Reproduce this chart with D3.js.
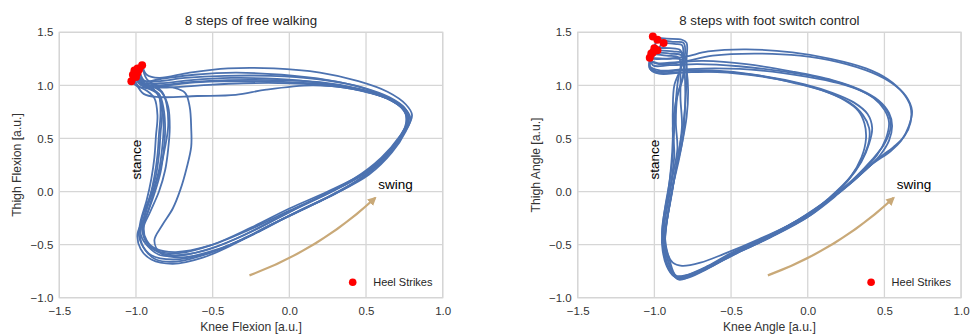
<!DOCTYPE html>
<html>
<head>
<meta charset="utf-8">
<script src="https://cdn.jsdelivr.net/npm/d3@7"></script>
<style>
  body { margin:0; background:#fff; }
  svg { font-family:"Liberation Sans", Arial, sans-serif; }
</style>
</head>
<body>
<svg width="971" height="336"></svg>
<script>
// tick values shared by both panels
var xTicks = [-1.5, -1.0, -0.5, 0.0, 0.5, 1.0]
var yTicks = [-1.0, -0.5, 0.0, 0.5, 1.0, 1.5]

// ---- left panel: free walking, one array of [knee, thigh] per step
var freeSteps = [
  [[-1.03,1.04],[-0.99,0.99],[-0.92,0.97],[-0.86,0.92],[-0.83,0.80],[-0.82,0.60],[-0.83,0.40],[-0.85,0.20],[-0.89,0.00],[-0.94,-0.20],[-0.96,-0.36],[-0.93,-0.48],[-0.86,-0.56],[-0.72,-0.58],[-0.50,-0.50],[-0.25,-0.34],[0.00,-0.16],[0.25,0.00],[0.48,0.17],[0.64,0.36],[0.74,0.55],[0.78,0.70],[0.74,0.80],[0.62,0.90],[0.45,0.97],[0.20,1.03],[-0.10,1.05],[-0.40,1.05],[-0.65,1.03],[-0.85,1.00],[-0.95,1.01],[-1.00,1.08]],
  [[-1.00,1.08],[-0.97,1.02],[-0.90,0.98],[-0.85,0.90],[-0.83,0.75],[-0.84,0.55],[-0.85,0.35],[-0.87,0.15],[-0.91,-0.05],[-0.96,-0.25],[-0.97,-0.40],[-0.92,-0.52],[-0.84,-0.60],[-0.70,-0.60],[-0.48,-0.52],[-0.22,-0.36],[0.02,-0.18],[0.28,0.00],[0.50,0.18],[0.66,0.38],[0.76,0.58],[0.80,0.72],[0.76,0.82],[0.64,0.94],[0.45,1.04],[0.20,1.12],[-0.10,1.16],[-0.40,1.16],[-0.65,1.12],[-0.85,1.07],[-0.93,1.10],[-0.96,1.19]],
  [[-0.96,1.19],[-0.93,1.06],[-0.86,1.00],[-0.76,0.98],[-0.68,0.93],[-0.65,0.80],[-0.64,0.60],[-0.64,0.42],[-0.67,0.22],[-0.71,0.02],[-0.76,-0.16],[-0.83,-0.32],[-0.88,-0.46],[-0.84,-0.58],[-0.70,-0.62],[-0.46,-0.54],[-0.20,-0.38],[0.05,-0.19],[0.30,-0.02],[0.52,0.16],[0.67,0.37],[0.76,0.57],[0.79,0.69],[0.74,0.80],[0.60,0.90],[0.40,0.97],[0.15,1.00],[-0.15,0.96],[-0.35,0.91],[-0.60,0.90],[-0.85,0.89],[-0.95,0.92],[-1.00,1.02],[-1.02,1.10]],
  [[-1.02,1.10],[-0.99,1.00],[-0.93,0.95],[-0.88,0.88],[-0.86,0.72],[-0.87,0.52],[-0.88,0.32],[-0.90,0.12],[-0.93,-0.08],[-0.97,-0.28],[-0.98,-0.42],[-0.94,-0.55],[-0.87,-0.64],[-0.74,-0.66],[-0.52,-0.58],[-0.28,-0.43],[-0.02,-0.24],[0.24,-0.06],[0.46,0.12],[0.62,0.31],[0.72,0.50],[0.77,0.66],[0.74,0.78],[0.63,0.88],[0.46,0.96],[0.22,1.02],[-0.08,1.06],[-0.38,1.07],[-0.64,1.05],[-0.84,1.02],[-0.96,1.03],[-0.99,1.12]],
  [[-0.99,1.12],[-0.96,1.03],[-0.89,0.99],[-0.83,0.93],[-0.79,0.80],[-0.78,0.60],[-0.79,0.40],[-0.81,0.20],[-0.85,0.00],[-0.91,-0.20],[-0.95,-0.34],[-0.93,-0.46],[-0.87,-0.54],[-0.74,-0.57],[-0.52,-0.51],[-0.26,-0.36],[0.00,-0.18],[0.26,-0.01],[0.48,0.16],[0.63,0.35],[0.73,0.54],[0.77,0.68],[0.73,0.79],[0.60,0.91],[0.42,1.00],[0.18,1.06],[-0.12,1.09],[-0.42,1.09],[-0.68,1.07],[-0.86,1.04],[-0.96,1.05],[-1.01,1.14]],
  [[-1.01,1.14],[-0.98,1.03],[-0.91,0.97],[-0.85,0.92],[-0.82,0.78],[-0.81,0.58],[-0.82,0.38],[-0.84,0.18],[-0.88,-0.02],[-0.93,-0.22],[-0.97,-0.36],[-0.96,-0.50],[-0.90,-0.60],[-0.76,-0.64],[-0.55,-0.59],[-0.32,-0.46],[-0.06,-0.27],[0.20,-0.09],[0.43,0.09],[0.60,0.28],[0.71,0.48],[0.76,0.64],[0.75,0.76],[0.66,0.86],[0.50,0.94],[0.28,1.00],[0.00,1.03],[-0.30,1.04],[-0.58,1.03],[-0.80,1.00],[-0.93,0.98],[-0.99,1.04],[-0.98,1.15]],
  [[-0.98,1.15],[-0.95,1.05],[-0.88,1.00],[-0.83,0.94],[-0.80,0.82],[-0.79,0.62],[-0.81,0.42],[-0.84,0.22],[-0.88,0.02],[-0.92,-0.18],[-0.95,-0.32],[-0.94,-0.45],[-0.88,-0.55],[-0.76,-0.60],[-0.56,-0.56],[-0.34,-0.44],[-0.08,-0.25],[0.18,-0.06],[0.42,0.12],[0.60,0.32],[0.72,0.52],[0.78,0.68],[0.75,0.79],[0.65,0.89],[0.48,0.98],[0.25,1.05],[-0.05,1.10],[-0.35,1.12],[-0.62,1.10],[-0.84,1.06],[-0.95,1.04],[-0.99,1.16]],
  [[-0.99,1.16],[-0.96,1.04],[-0.90,0.98],[-0.85,0.90],[-0.84,0.74],[-0.85,0.54],[-0.86,0.34],[-0.88,0.14],[-0.91,-0.06],[-0.95,-0.26],[-0.99,-0.40],[-0.97,-0.54],[-0.90,-0.64],[-0.76,-0.68],[-0.56,-0.62],[-0.34,-0.48],[-0.10,-0.30],[0.16,-0.12],[0.40,0.06],[0.58,0.25],[0.70,0.45],[0.77,0.63],[0.76,0.75],[0.68,0.85],[0.52,0.93],[0.30,0.99],[0.00,1.02],[-0.30,1.02],[-0.58,1.00],[-0.80,0.98],[-0.94,0.99],[-1.00,1.06],[-1.00,1.16]]
]
var freeHeel = [[-1.03,1.04],[-1.00,1.08],[-0.96,1.19],[-1.02,1.10],[-0.99,1.12],[-1.01,1.14],[-0.98,1.15],[-0.99,1.16]]

// ---- right panel: foot switch control
var switchSteps = [
  [[-1.01,1.45],[-0.92,1.44],[-0.82,1.43],[-0.79,1.40],[-0.79,1.25],[-0.79,1.05],[-0.80,0.80],[-0.81,0.55],[-0.84,0.30],[-0.88,0.05],[-0.91,-0.20],[-0.93,-0.45],[-0.90,-0.65],[-0.86,-0.79],[-0.80,-0.79],[-0.65,-0.70],[-0.50,-0.58],[-0.28,-0.44],[-0.05,-0.26],[0.15,-0.07],[0.32,0.13],[0.45,0.30],[0.56,0.42],[0.63,0.52],[0.67,0.65],[0.67,0.80],[0.62,0.93],[0.52,1.06],[0.38,1.16],[0.15,1.25],[-0.10,1.31],[-0.40,1.34],[-0.65,1.32],[-0.80,1.27],[-0.95,1.25],[-1.02,1.26],[-0.98,1.43]],
  [[-0.98,1.43],[-0.88,1.41],[-0.81,1.40],[-0.80,1.30],[-0.84,1.10],[-0.86,0.85],[-0.87,0.60],[-0.88,0.35],[-0.90,0.10],[-0.93,-0.15],[-0.95,-0.40],[-0.92,-0.60],[-0.88,-0.76],[-0.83,-0.82],[-0.72,-0.76],[-0.55,-0.63],[-0.33,-0.48],[-0.10,-0.30],[0.10,-0.11],[0.28,0.08],[0.42,0.26],[0.54,0.38],[0.61,0.48],[0.66,0.62],[0.68,0.76],[0.64,0.90],[0.55,1.02],[0.42,1.12],[0.20,1.22],[-0.05,1.28],[-0.35,1.30],[-0.62,1.28],[-0.82,1.22],[-0.97,1.20],[-1.03,1.24],[-0.94,1.40]],
  [[-0.94,1.40],[-0.87,1.39],[-0.82,1.38],[-0.81,1.28],[-0.80,1.05],[-0.80,0.80],[-0.82,0.55],[-0.85,0.30],[-0.88,0.05],[-0.91,-0.20],[-0.93,-0.42],[-0.92,-0.56],[-0.88,-0.67],[-0.82,-0.70],[-0.70,-0.67],[-0.55,-0.59],[-0.32,-0.45],[-0.06,-0.27],[0.14,-0.08],[0.30,0.12],[0.42,0.30],[0.50,0.45],[0.54,0.60],[0.53,0.72],[0.47,0.84],[0.36,0.94],[0.20,1.02],[0.00,1.08],[-0.30,1.14],[-0.60,1.16],[-0.82,1.15],[-0.96,1.14],[-1.03,1.18],[-1.00,1.35]],
  [[-1.00,1.35],[-0.90,1.35],[-0.83,1.33],[-0.82,1.20],[-0.87,1.00],[-0.88,0.75],[-0.88,0.50],[-0.89,0.25],[-0.91,0.00],[-0.94,-0.25],[-0.95,-0.50],[-0.92,-0.70],[-0.87,-0.80],[-0.80,-0.80],[-0.66,-0.72],[-0.50,-0.60],[-0.28,-0.45],[-0.04,-0.26],[0.14,-0.06],[0.28,0.14],[0.36,0.32],[0.40,0.48],[0.40,0.60],[0.36,0.72],[0.27,0.84],[0.12,0.94],[-0.08,1.02],[-0.35,1.10],[-0.62,1.14],[-0.84,1.14],[-0.98,1.13],[-1.03,1.18],[-0.98,1.33]],
  [[-0.98,1.33],[-0.88,1.32],[-0.81,1.30],[-0.79,1.15],[-0.78,0.95],[-0.79,0.70],[-0.82,0.45],[-0.86,0.20],[-0.89,-0.05],[-0.92,-0.30],[-0.93,-0.52],[-0.90,-0.70],[-0.86,-0.81],[-0.80,-0.82],[-0.67,-0.74],[-0.52,-0.62],[-0.30,-0.47],[-0.06,-0.28],[0.12,-0.09],[0.26,0.10],[0.35,0.28],[0.40,0.45],[0.42,0.60],[0.39,0.73],[0.30,0.84],[0.16,0.93],[-0.02,1.01],[-0.30,1.09],[-0.58,1.13],[-0.82,1.12],[-0.97,1.11],[-1.03,1.16],[-1.01,1.31]],
  [[-1.01,1.31],[-0.90,1.30],[-0.82,1.28],[-0.81,1.12],[-0.85,0.90],[-0.86,0.65],[-0.85,0.40],[-0.88,0.15],[-0.91,-0.10],[-0.94,-0.35],[-0.94,-0.55],[-0.91,-0.72],[-0.86,-0.80],[-0.79,-0.79],[-0.64,-0.70],[-0.48,-0.57],[-0.26,-0.42],[-0.02,-0.23],[0.18,-0.03],[0.34,0.17],[0.45,0.34],[0.51,0.50],[0.53,0.65],[0.50,0.77],[0.43,0.88],[0.30,0.98],[0.12,1.06],[-0.15,1.13],[-0.45,1.18],[-0.72,1.20],[-0.90,1.19],[-1.01,1.19],[-1.02,1.30]],
  [[-1.02,1.30],[-0.92,1.28],[-0.84,1.26],[-0.83,1.10],[-0.83,0.88],[-0.82,0.62],[-0.84,0.38],[-0.87,0.12],[-0.90,-0.12],[-0.93,-0.38],[-0.93,-0.60],[-0.89,-0.76],[-0.84,-0.83],[-0.77,-0.80],[-0.62,-0.70],[-0.46,-0.58],[-0.24,-0.43],[0.00,-0.24],[0.16,-0.05],[0.28,0.14],[0.35,0.32],[0.38,0.50],[0.37,0.64],[0.33,0.76],[0.24,0.86],[0.10,0.95],[-0.10,1.03],[-0.38,1.10],[-0.66,1.13],[-0.86,1.12],[-0.99,1.12],[-1.03,1.16],[-1.03,1.26]],
  [[-1.03,1.26],[-0.92,1.25],[-0.82,1.24],[-0.81,1.10],[-0.86,0.85],[-0.88,0.60],[-0.87,0.35],[-0.89,0.10],[-0.92,-0.15],[-0.94,-0.40],[-0.93,-0.62],[-0.89,-0.76],[-0.84,-0.81],[-0.76,-0.78],[-0.60,-0.68],[-0.44,-0.56],[-0.22,-0.41],[0.02,-0.22],[0.20,-0.02],[0.36,0.18],[0.47,0.34],[0.53,0.48],[0.55,0.62],[0.53,0.74],[0.46,0.86],[0.34,0.96],[0.16,1.05],[-0.10,1.13],[-0.40,1.20],[-0.68,1.23],[-0.85,1.22],[-0.98,1.21],[-1.03,1.24]]
]
var switchHeel = [[-1.01,1.46],[-0.98,1.43],[-0.94,1.40],[-1.00,1.35],[-0.98,1.33],[-1.01,1.31],[-1.02,1.30],[-1.03,1.26]]

// annotation anchors (data units)
var arrowFrom = [-0.26, -0.79]
var arrowTo = [0.56, -0.06]
var swingAt = [0.58, 0.02]
var stanceAt = [-0.97, 0.3]

var panels = [
  {left:59.3, title:"8 steps of free walking", xlabel:"Knee Flexion [a.u.]", ylabel:"Thigh Flexion [a.u.]", steps:freeSteps, heel:freeHeel},
  {left:577.7, title:"8 steps with foot switch control", xlabel:"Knee Angle [a.u.]", ylabel:"Thigh Angle [a.u.]", steps:switchSteps, heel:switchHeel}
]

var plotW = 383.4, plotTop = 32.3, plotH = 265.4
var svg = d3.select("svg")

svg.append("defs").append("marker")
   .attr("id","head")
   .attr("viewBox","0 0 10 10")
   .attr("refX",8).attr("refY",5)
   .attr("markerWidth",4).attr("markerHeight",4)
   .attr("markerUnits","strokeWidth")
   .attr("orient","auto")
   .append("path")
   .attr("d","M0,0 L10,5 L0,10 z")
   .attr("fill","#c9a978")

panels.forEach(function(p)
{
  var g = svg.append("g").attr("transform","translate("+p.left+","+plotTop+")")

  var xScale = d3.scaleLinear().domain([-1.5,1.0]).range([0,plotW])
  var yScale = d3.scaleLinear().domain([-1.0,1.5]).range([plotH,0])

  // grid
  g.append("g").selectAll("line").data(xTicks).enter().append("line")
   .attr("x1",function(d){return xScale(d)}).attr("x2",function(d){return xScale(d)})
   .attr("y1",0).attr("y2",plotH)
   .attr("stroke","#d6d6d6").attr("stroke-width",1.3)
  g.append("g").selectAll("line").data(yTicks).enter().append("line")
   .attr("y1",function(d){return yScale(d)}).attr("y2",function(d){return yScale(d)})
   .attr("x1",0).attr("x2",plotW)
   .attr("stroke","#d6d6d6").attr("stroke-width",1.3)

  var xAxis = d3.axisBottom(xScale).tickValues(xTicks).tickFormat(d3.format(".1f")).tickSize(0).tickPadding(9)
  var yAxis = d3.axisLeft(yScale).tickValues(yTicks).tickFormat(d3.format(".1f")).tickSize(0).tickPadding(6)

  g.append("g").attr("transform","translate(0,"+plotH+")").call(xAxis)
   .call(function(a){a.select(".domain").remove()})
   .selectAll("text").attr("font-size","11.5px").attr("fill","#333").attr("font-family","Liberation Sans, Arial, sans-serif")
  g.append("g").call(yAxis)
   .call(function(a){a.select(".domain").remove()})
   .selectAll("text").attr("font-size","11.5px").attr("fill","#333").attr("font-family","Liberation Sans, Arial, sans-serif")

  g.append("rect").attr("width",plotW).attr("height",plotH)
   .attr("fill","none").attr("stroke","#d6d6d6").attr("stroke-width",1.3)

  // step traces
  var line = d3.line()
               .x(function(d){return xScale(d[0])})
               .y(function(d){return yScale(d[1])})
               .curve(d3.curveCatmullRom.alpha(0.5))
  g.append("g").selectAll("path").data(p.steps).enter().append("path")
   .attr("d",line)
   .attr("fill","none").attr("stroke","#4c72b0").attr("stroke-width",1.8)
   .attr("stroke-linejoin","round")

  g.append("g").selectAll("circle").data(p.heel).enter().append("circle")
   .attr("cx",function(d){return xScale(d[0])})
   .attr("cy",function(d){return yScale(d[1])})
   .attr("r",4).attr("fill","#ff0000")

  // swing arrow, slight arc
  var x0 = xScale(arrowFrom[0]), y0 = yScale(arrowFrom[1])
  var x1 = xScale(arrowTo[0]), y1 = yScale(arrowTo[1])
  var cx = (x0+x1)/2 - 0.1*(y1-y0), cy = (y0+y1)/2 + 0.1*(x1-x0)
  g.append("path")
   .attr("d","M"+x0+","+y0+" Q"+cx+","+cy+" "+x1+","+y1)
   .attr("fill","none").attr("stroke","#c9a978").attr("stroke-width",2.2)
   .attr("marker-end","url(#head)")

  g.append("text").attr("x",xScale(swingAt[0])).attr("y",yScale(swingAt[1]))
   .attr("font-size","13.5px").attr("fill","#000").text("swing")
  g.append("text")
   .attr("transform","translate("+xScale(stanceAt[0])+","+yScale(stanceAt[1])+") rotate(-90)")
   .attr("text-anchor","middle").attr("font-size","13.5px").attr("fill","#000").text("stance")

  // legend
  g.append("circle").attr("cx",plotW-90).attr("cy",250).attr("r",3.8).attr("fill","#ff0000")
  g.append("text").attr("x",plotW-69.5).attr("y",254).attr("font-size","11px").attr("fill","#262626").text("Heel Strikes")

  // titles and labels
  g.append("text").attr("x",plotW/2).attr("y",-7).attr("text-anchor","middle")
   .attr("font-size","13.3px").attr("fill","#262626").text(p.title)
  g.append("text").attr("x",plotW/2).attr("y",plotH+33).attr("text-anchor","middle")
   .attr("font-size","12.2px").attr("fill","#333").text(p.xlabel)
  g.append("text").attr("transform","translate(-38,"+(plotH/2)+") rotate(-90)")
   .attr("text-anchor","middle").attr("font-size","12.2px").attr("fill","#333").text(p.ylabel)
})
</script>
</body>
</html>
